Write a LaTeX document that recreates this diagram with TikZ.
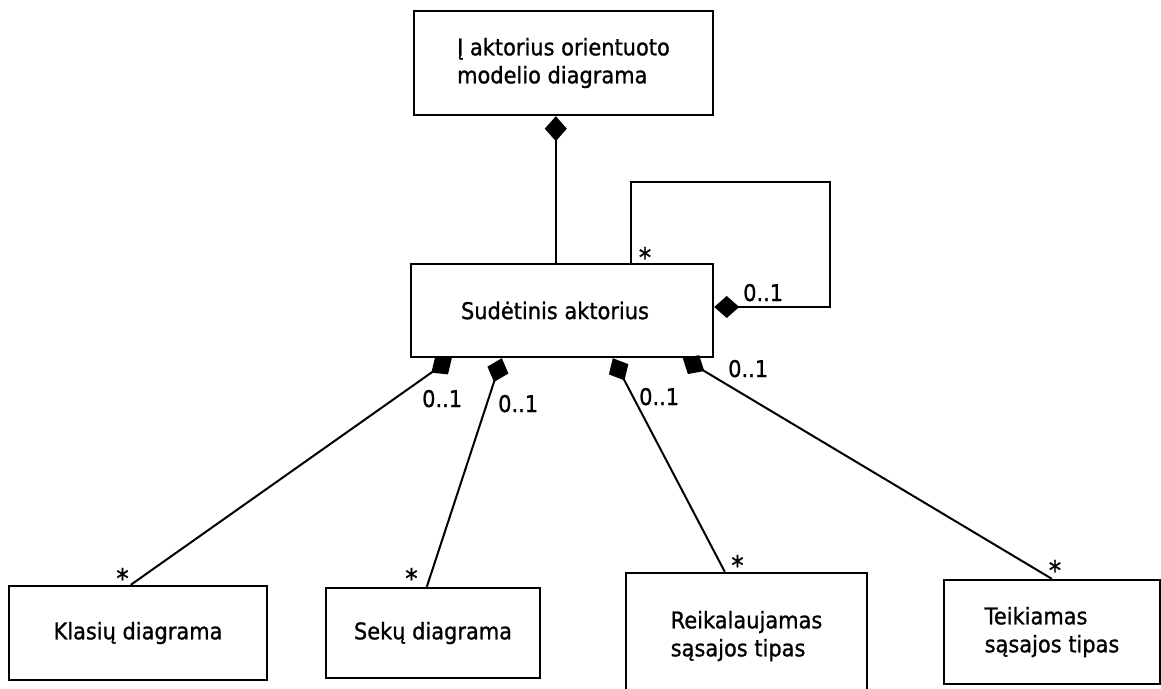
\documentclass[tikz,border=0pt]{standalone}
\usepackage{fontspec}
\setmainfont{DejaVu Sans}[FakeStretch=0.91,FakeBold=1]
\usetikzlibrary{arrows.meta,calc}
\begin{document}
\begin{tikzpicture}[x=1pt,y=-1pt,
  box/.style={draw,line width=2.4pt,rectangle,inner sep=0pt,align=left,
    font=\fontsize{23}{28}\selectfont},
  comp/.style={line width=2pt,arrows={Diamond[length=25pt,width=22pt]-}},
  mult/.style={font=\fontsize{23}{28}\selectfont,inner sep=0pt,anchor=base west},
  star/.style={font=\fontsize{27}{28}\selectfont,inner sep=0pt,anchor=base}]
\useasboundingbox (0,0) rectangle (1161,688);
\fill[white] (0,0) rectangle (1161,688);

% classes
\node[box,minimum width=299pt,minimum height=104pt] (top) at (563.5,63) {Į aktorius orientuoto\\modelio diagrama};
\node[box,minimum width=302pt,minimum height=93pt] (sud) at (562,310.5) {Sudėtinis aktorius\hspace*{14pt}};
\node[box,minimum width=258pt,minimum height=94pt] (kl) at (138,633) {Klasių diagrama};
\node[box,minimum width=214pt,minimum height=90pt] (sek) at (433,633) {Sekų diagrama};
\node[box,minimum width=241pt,minimum height=126pt] (reik) at (746.5,636) {Reikalaujamas\\sąsajos tipas};
\node[box,minimum width=216pt,minimum height=104pt] (teik) at (1052,632) {Teikiamas\\sąsajos tipas};

% attachment points on the box edges
\coordinate (topS) at ($(top.south west)+(143,0)$);
\coordinate (sudN) at ($(sud.north west)+(146,0)$);
\coordinate (sudLoopN) at ($(sud.north west)+(221,0)$);
\coordinate (sudLoopE) at ($(sud.east)+(0,-3.5)$);
\coordinate (sudB1) at ($(sud.south west)+(42,0)$);
\coordinate (sudB2) at ($(sud.south west)+(92,0)$);
\coordinate (sudB3) at ($(sud.south west)+(203,0)$);
\coordinate (sudB4) at ($(sud.south west)+(273,0)$);
\coordinate (klN) at ($(kl.north west)+(123,0)$);
\coordinate (sekN) at ($(sek.north west)+(102,0)$);
\coordinate (reikN) at ($(reik.north west)+(100,0)$);
\coordinate (teikN) at ($(teik.north west)+(109,0)$);

% compositions
\draw[comp] (topS) -- (sudN);
\draw[comp] (sudLoopE) -| (830,182) -| (sudLoopN);
\draw[comp] (sudB1) -- (klN);
\draw[comp] (sudB2) -- (sekN);
\draw[comp] (sudB3) -- (reikN);
\draw[comp] (sudB4) -- (teikN);

% multiplicities
\node[mult] (mLoop) at (743,301) {0..1};
\node[star] (sLoop) at (645,267) {*};
\node[mult] (m1) at (422,407) {0..1};
\node[mult] (m2) at (498,412) {0..1};
\node[mult] (m3) at (639,405) {0..1};
\node[mult] (m4) at (728,377) {0..1};
\node[star] (s1) at (122.5,588) {*};
\node[star] (s2) at (411.5,588) {*};
\node[star] (s3) at (737.5,575) {*};
\node[star] (s4) at (1055,580) {*};
\end{tikzpicture}
\end{document}
